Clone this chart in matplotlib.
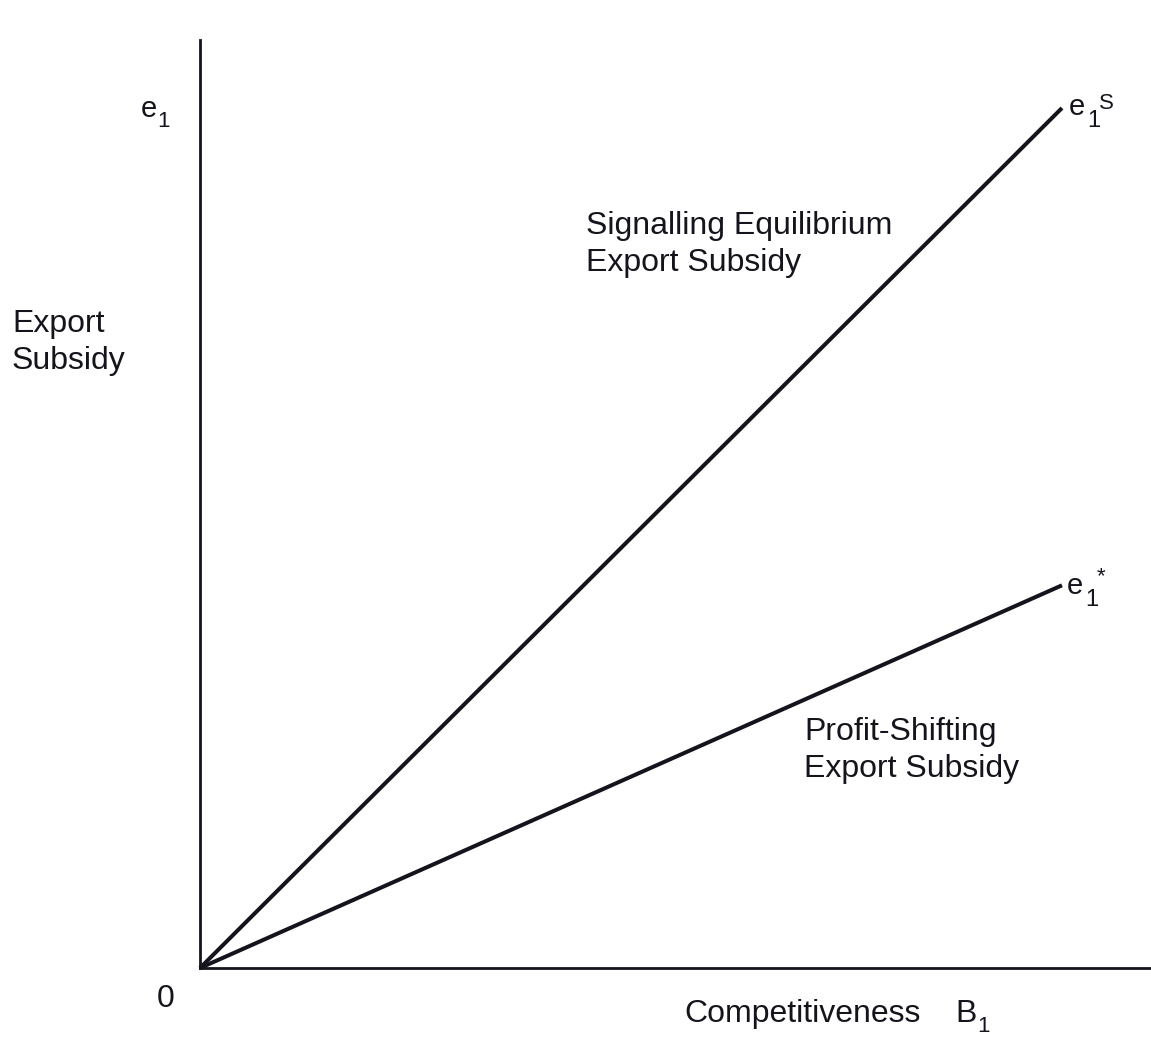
import matplotlib
matplotlib.use("Agg")
import matplotlib.pyplot as plt

plt.rcParams['font.family'] = ['Liberation Sans', 'DejaVu Sans']

# Data (schematic)
competitiveness = [0.0, 1.0]
signalling_subsidy = [0.0, 1.0]
profit_shifting_subsidy = [0.0, 0.445]

W, H = 1151, 1037
fig = plt.figure(figsize=(W / 100, H / 100), dpi=100)

def fx(px):
    return px / W

def fy(py):
    return 1 - py / H

ax = fig.add_axes([fx(200), fy(968), fx(1151) - fx(200), fy(40) - fy(968)])
ax.set_xlim(0, 951 / 862)
ax.set_ylim(0, 928 / 860)
for s in ['top', 'right']:
    ax.spines[s].set_visible(False)
for s in ['left', 'bottom']:
    ax.spines[s].set_linewidth(2.0)
    ax.spines[s].set_color('#14141c')
ax.set_xticks([])
ax.set_yticks([])

lc = '#14141c'
ax.plot(competitiveness, signalling_subsidy, color=lc, lw=2.9, solid_capstyle='butt', clip_on=False)
ax.plot(competitiveness, profit_shifting_subsidy, color=lc, lw=2.9, solid_capstyle='butt', clip_on=False)

tc = '#14141c'
FS = 23

def t(x, y, s, fs=FS):
    fig.text(fx(x), fy(y), s, fontsize=fs, color=tc, va='baseline', ha='left')

# y-axis end label e1
t(141, 117, 'e', 21)
t(157, 127, '1', 16)

# axis title
t(12, 332, 'Export')
t(12, 369, 'Subsidy')

# curve descriptions
t(586, 234, 'Signalling Equilibrium')
t(586, 271, 'Export Subsidy')
t(804, 740, 'Profit-Shifting')
t(804, 777, 'Export Subsidy')

# origin and x-axis title
t(157, 1007, '0')
t(684, 1022, 'Competitiveness')
t(955, 1022, 'B')
t(977, 1032, '1', 16)

# line end labels
t(1069, 115, 'e', 21)
t(1087, 127, '1', 17)
t(1099, 109, 'S', 16)
t(1067, 594, 'e', 21)
t(1085, 606, '1', 17)
t(1097, 582, '*', 16)

fig.savefig('out.png', dpi=100, facecolor='white')
